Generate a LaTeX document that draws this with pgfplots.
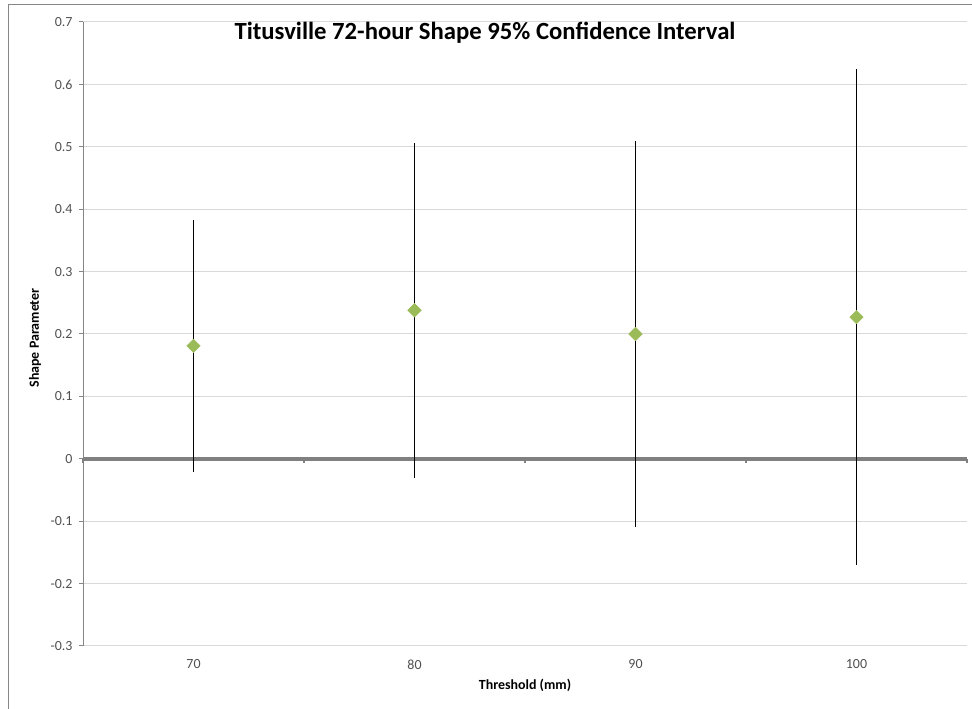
\documentclass[border=0pt]{standalone}
\usepackage{pgfplots}
\pgfplotsset{compat=1.18}
\usepackage{fontspec}
\setmainfont{Carlito}
\definecolor{gridc}{HTML}{D9D9D9}
\definecolor{axc}{HTML}{868686}
\definecolor{zeroc}{HTML}{808080}
\definecolor{markc}{HTML}{9BBB59}
\definecolor{tickc}{HTML}{505050}
\begin{document}
\begin{tikzpicture}[x=1bp,y=1bp]
\useasboundingbox (0,0) rectangle (972,709);
\draw[axc, line width=1bp] (8,0) -- (8,704) -- (972,704);
\begin{axis}[
  at={(83bp,63bp)}, anchor=south west,
  scale only axis, width=884bp, height=624bp,
  xmin=65, xmax=105, ymin=-0.3, ymax=0.7,
  xtick={70,80,90,100},
  ytick={-0.3,-0.2,-0.1,0,0.1,0.2,0.3,0.4,0.5,0.6,0.7},
  axis x line*=bottom, axis y line*=left,
  x axis line style={draw=none},
  y axis line style={draw=axc, line width=1bp},
  ymajorgrids, grid style={gridc, line width=1bp},
  tick align=outside,
  major x tick style={draw=none},
  major y tick style={axc, line width=1bp},
  major tick length=4bp,
  /pgf/number format/assume math mode=true,
  ticklabel style={font=\fontsize{14}{16}\selectfont, text=tickc},
  xticklabel style={yshift=-6bp},
  yticklabel style={xshift=-3bp},
  extra y ticks={0}, extra y tick labels={},
  extra y tick style={grid style={zeroc, line width=3.5bp}, major tick length=0pt},
  clip=false,
]
\addplot[only marks, mark=square*, mark size=4.8bp,
  mark options={rotate=45, fill=markc, draw=markc},
  error bars/.cd, y dir=both, y explicit, error mark=none,
  error bar style={black, line width=0.8bp}]
coordinates {
  (70,0.181) +- (0,0.202)
  (80,0.238) +- (0,0.268)
  (90,0.200) +- (0,0.310)
  (100,0.227) +- (0,0.398)
};
\pgfplotsinvokeforeach{65,75,85,95,105}{
  \draw[zeroc, line width=2bp] (axis cs:#1,0) -- ([yshift=-4bp]axis cs:#1,0);
}
\end{axis}
\node[font=\fontsize{24.8}{28}\selectfont\bfseries, text=black] at (485,676) {Titusville 72-hour Shape 95\% Confidence Interval};
\node[font=\fontsize{14}{16}\selectfont\bfseries, rotate=90] at (35,371) {Shape Parameter};
\node[font=\fontsize{14}{16}\selectfont\bfseries] at (525,24) {Threshold (mm)};
\end{tikzpicture}
\end{document}
